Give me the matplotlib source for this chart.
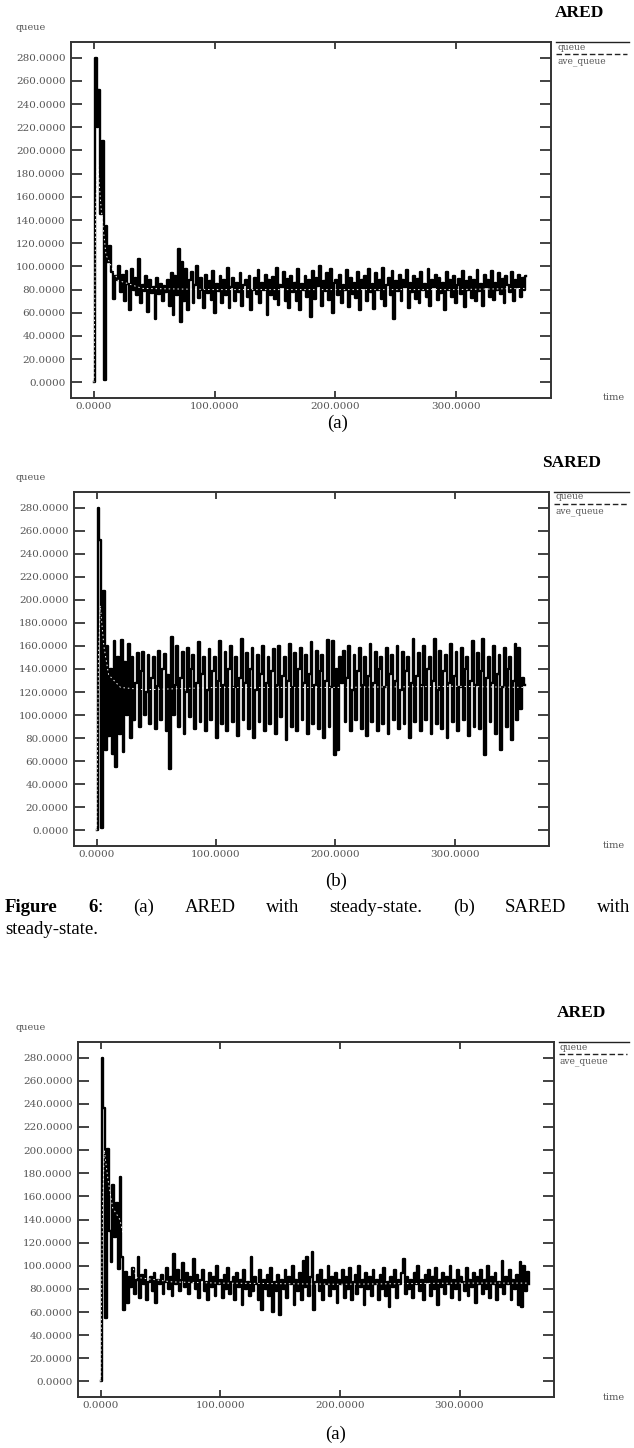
import numpy as np
import matplotlib
matplotlib.use("Agg")
import matplotlib.pyplot as plt
from matplotlib.lines import Line2D

W, H = 634, 1448
DT = 1.5  # seconds between queue samples

# queue length, one sample every 1.5 s
ared_steady_q = [
    0, 280, 220, 252, 145, 208, 2, 135, 104, 118,
    95, 72, 92, 88, 100, 78, 93, 70, 96, 85,
    62, 98, 80, 90, 75, 106, 68, 84, 79, 92,
    61, 88, 77, 82, 55, 90, 76, 85, 70, 83,
    78, 88, 66, 94, 58, 92, 75, 115, 52, 104,
    70, 98, 62, 88, 95, 68, 84, 100, 73, 90,
    80, 64, 93, 77, 87, 71, 96, 60, 85, 79,
    92, 68, 88, 75, 99, 64, 82, 90, 70, 86,
    78, 94, 66, 84, 88, 74, 92, 62, 80, 90,
    76, 97, 68, 86, 80, 93, 58, 88, 75, 91,
    72, 99, 67, 84, 82, 95, 70, 89, 64, 92,
    78, 86, 70, 98, 62, 85, 80, 92, 74, 88,
    56, 96, 72, 90, 83, 100, 66, 87, 79, 94,
    71, 98, 60, 86, 88, 75, 93, 68, 84, 80,
    97, 65, 90, 76, 86, 73, 95, 62, 88, 81,
    92, 70, 98, 78, 85, 63, 94, 80, 88, 72,
    99, 66, 84, 90, 75, 96, 55, 87, 79, 93,
    70, 88, 82, 97, 64, 86, 78, 92, 72, 89,
    68, 95, 80, 85, 74, 98, 66, 88, 82, 93,
    71, 90, 77, 86, 62, 95, 80, 88, 74, 92,
    68, 84, 89, 76, 96, 65, 87, 80, 91, 73,
    88, 70, 97, 79, 85, 66, 93, 82, 88, 74,
    96, 71, 86, 80, 94, 76, 89, 68, 92, 84,
    78, 95, 70, 88, 82, 93, 74, 90, 80, 92,
]

sared_steady_q = [
    0, 280, 252, 2, 208, 70, 160, 82, 140, 66,
    164, 55, 150, 84, 165, 68, 146, 100, 162, 80,
    150, 96, 128, 154, 90, 138, 155, 100, 120, 152,
    92, 132, 150, 88, 125, 156, 96, 140, 153, 86,
    135, 53, 168, 100, 126, 160, 90, 132, 155, 84,
    120, 158, 98, 140, 152, 88, 128, 163, 94, 136,
    150, 86, 122, 157, 96, 138, 150, 80, 130, 164,
    92, 126, 155, 86, 140, 160, 94, 124, 150, 82,
    132, 166, 96, 128, 154, 88, 140, 158, 80, 122,
    152, 94, 136, 160, 86, 128, 150, 92, 138, 157,
    84, 126, 160, 98, 134, 150, 78, 130, 162, 90,
    124, 154, 86, 140, 158, 96, 128, 152, 84, 136,
    163, 92, 126, 156, 88, 138, 152, 80, 130, 165,
    90, 124, 164, 65, 140, 70, 150, 128, 156, 94,
    132, 160, 86, 122, 152, 96, 138, 158, 88, 126,
    150, 82, 134, 162, 94, 128, 155, 86, 140, 150,
    92, 124, 158, 84, 136, 152, 96, 130, 160, 88,
    122, 155, 92, 138, 150, 80, 128, 166, 94, 134,
    154, 86, 126, 160, 96, 140, 150, 84, 130, 166,
    92, 122, 156, 88, 138, 152, 80, 128, 162, 94,
    134, 155, 86, 124, 158, 96, 140, 150, 82, 130,
    164, 90, 126, 154, 88, 138, 166, 65, 132, 150,
    94, 128, 160, 84, 136, 152, 70, 124, 158, 90,
    140, 150, 78, 130, 162, 96, 158, 105, 132, 126,
]

ared_q = [
    0, 280, 236, 55, 201, 130, 103, 170, 125, 154,
    97, 177, 108, 62, 95, 68, 90, 82, 98, 76,
    88, 108, 72, 92, 84, 96, 70, 86, 90, 78,
    94, 68, 88, 84, 92, 76, 86, 98, 80, 90,
    74, 110, 84, 96, 78, 88, 102, 82, 94, 76,
    90, 86, 106, 80, 92, 72, 88, 96, 78, 86,
    70, 94, 82, 90, 74, 100, 84, 88, 72, 92,
    80, 98, 76, 86, 90, 70, 94, 82, 88, 66,
    96, 80, 86, 74, 108, 78, 90, 84, 70, 96,
    62, 88, 80, 92, 74, 98, 60, 86, 78, 92,
    57, 88, 80, 96, 72, 90, 84, 100, 66, 88,
    78, 94, 70, 104, 82, 108, 74, 90, 112, 62,
    86, 92, 78, 96, 70, 88, 84, 100, 74, 90,
    80, 94, 68, 88, 84, 96, 72, 90, 80, 98,
    70, 86, 92, 76, 100, 82, 88, 66, 94, 80,
    90, 74, 96, 84, 88, 70, 92, 80, 98, 74,
    86, 64, 90, 82, 96, 72, 88, 84, 94, 106,
    76, 90, 80, 88, 72, 94, 84, 100, 78, 88,
    70, 92, 86, 96, 74, 90, 80, 98, 66, 88,
    82, 94, 76, 90, 84, 100, 72, 88, 80, 96,
    70, 90, 86, 78, 98, 74, 88, 82, 94, 68,
    90, 84, 96, 76, 88, 80, 100, 72, 90, 84,
    94, 70, 86, 82, 104, 76, 90, 84, 96, 70,
    88, 80, 92, 66, 103, 64, 100, 78, 95, 84,
]

# ave_queue (dashed), read at a few times
ared_steady_ave_t = [0, 1.5, 3, 6, 10, 20, 40, 100, 200, 300, 358]
ared_steady_ave = [0, 150, 190, 150, 110, 88, 81, 80, 80, 80, 81]
sared_steady_ave_t = [0, 1.5, 3, 6, 10, 20, 40, 100, 200, 300, 358]
sared_steady_ave = [0, 150, 195, 160, 135, 124, 122, 124, 124, 125, 124]
ared_ave_t = [0, 1.5, 3, 6, 10, 16, 22, 30, 60, 100, 200, 300, 358]
ared_ave = [0, 150, 200, 175, 150, 140, 112, 90, 86, 85, 84, 85, 85]

xticks = [0, 100, 200, 300]
yticks = list(range(0, 281, 20))

PLOT_FONT = ["DejaVu Serif"]
DOC_FONT = ["Liberation Serif"]

fig = plt.figure(figsize=(W / 100, H / 100), dpi=100)


def fx(x):
    return x / W


def fy(y):
    return 1 - y / H


def panel(box, title, title_x, q, ave_t, ave, sub, sub_xy):
    l, t, r, b = box
    ax = fig.add_axes([fx(l), fy(b), (r - l) / W, (b - t) / H])
    tt = np.arange(len(q)) * DT
    ax.plot(tt, q, color="black", lw=1.7, drawstyle="steps-mid", zorder=3)
    ax.plot(ave_t, ave, color="white", lw=0.7, ls=(0, (1.5, 3)), zorder=4)
    ax.set_xlim(-19, 379)
    ax.set_ylim(-13.5, 293.5)
    ax.set_xticks(xticks)
    ax.set_yticks(yticks)
    ax.set_xticklabels(["%.4f" % v for v in xticks], fontsize=7.5,
                       family=PLOT_FONT, color="#555555")
    ax.set_yticklabels(["%.4f" % v for v in yticks], fontsize=7.5,
                       family=PLOT_FONT, color="#555555")
    ax.tick_params(axis="y", direction="in", length=8, width=1.2,
                   left=True, right=True, pad=4, color="#222222")
    ax.tick_params(axis="x", direction="in", length=5, width=1.2,
                   bottom=True, top=True, pad=3, color="#222222")
    for s in ax.spines.values():
        s.set_linewidth(1.4)
        s.set_color("#333333")

    # labels around the box
    fig.text(fx(title_x), fy(t - 29), title, fontsize=12.5, fontweight="bold",
             family=DOC_FONT, ha="center", va="center")
    fig.text(fx(31), fy(t - 14), "queue", fontsize=7, family=PLOT_FONT,
             color="#555555", ha="center", va="center")
    fig.text(fx(614), fy(b), "time", fontsize=7, family=PLOT_FONT,
             color="#555555", ha="center", va="center")

    # legend on the right
    lx0, lx1 = r + 5, 629
    fig.add_artist(Line2D([fx(lx0), fx(lx1)], [fy(t), fy(t)],
                          color="#222222", lw=1.0))
    fig.text(fx(lx0 + 1), fy(t + 5), "queue", fontsize=6.5, family=PLOT_FONT,
             color="#555555", ha="left", va="center")
    fig.add_artist(Line2D([fx(lx0), fx(lx1 - 2)], [fy(t + 12), fy(t + 12)],
                          color="#222222", lw=1.0, ls=(0, (4, 2))))
    fig.text(fx(lx0 + 1), fy(t + 19), "ave_queue", fontsize=6.5,
             family=PLOT_FONT, color="#555555", ha="left", va="center")

    fig.text(fx(sub_xy[0]), fy(sub_xy[1]), sub, fontsize=13.5,
             family=DOC_FONT, ha="center", va="center")
    return ax


panel((71, 42, 551, 398), "ARED", 580, ared_steady_q,
      ared_steady_ave_t, ared_steady_ave, "(a)", (338, 423))
panel((74, 492, 549, 846), "SARED", 572, sared_steady_q,
      sared_steady_ave_t, sared_steady_ave, "(b)", (336, 881))
panel((78, 1042, 554, 1397), "ARED", 582, ared_q,
      ared_ave_t, ared_ave, "(a)", (336, 1434))

# caption, first line justified across the column
renderer = fig.canvas.get_renderer()
groups = [
    [("Figure", "bold")],
    [("6", "bold"), (":", "normal")],
    [("(a)", "normal")],
    [("ARED", "normal")],
    [("with", "normal")],
    [("steady-state.", "normal")],
    [("(b)", "normal")],
    [("SARED", "normal")],
    [("with", "normal")],
]
x0, x1, yline = 5, 630, 907
pieces = []
total = 0
for g in groups:
    gw = []
    for txt, wt in g:
        tobj = fig.text(0, fy(yline), txt, fontsize=13.5, fontweight=wt,
                        family=DOC_FONT, ha="left", va="center")
        w = tobj.get_window_extent(renderer).width
        gw.append((tobj, w))
        total += w
    pieces.append(gw)
gap = (x1 - x0 - total) / (len(groups) - 1)
x = x0
for gw in pieces:
    for tobj, w in gw:
        tobj.set_x(fx(x))
        x += w
    x += gap
fig.text(fx(x0), fy(930), "steady-state.", fontsize=13.5, family=DOC_FONT,
         ha="left", va="center")

fig.savefig("out.png", dpi=100)
